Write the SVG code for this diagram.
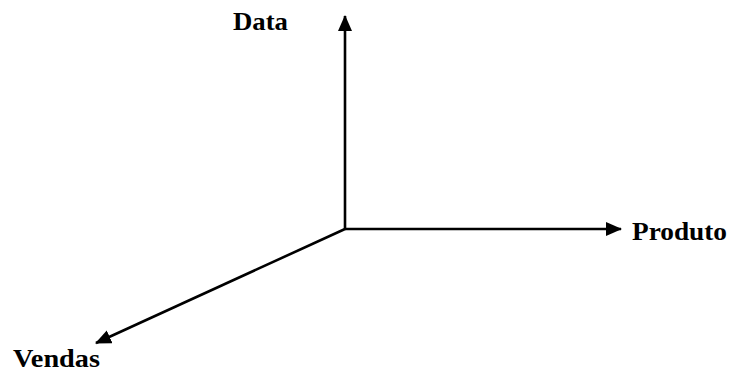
<svg xmlns="http://www.w3.org/2000/svg" width="730" height="374" viewBox="0 0 730 374">
<style>
.lbl{font-family:"Liberation Serif","Times New Roman",serif;font-weight:bold;font-size:26px;fill:#000}
.ax{stroke:#000;stroke-width:2.6;fill:none}
</style>
<defs>
<marker id="ah" viewBox="0 0 16 14" refX="15" refY="7" markerWidth="16" markerHeight="14" markerUnits="userSpaceOnUse" orient="auto">
<path d="M0,0 L16,7 L0,14 Z" fill="#000"/>
</marker>
</defs>
<rect width="730" height="374" fill="#fff"/>
<g id="connectors">
<line class="ax" x1="345" y1="229" x2="345" y2="16" marker-end="url(#ah)"/>
<line class="ax" x1="345" y1="229" x2="621" y2="229" marker-end="url(#ah)"/>
<line class="ax" x1="345" y1="229" x2="96" y2="343" marker-end="url(#ah)"/>
</g>
<g id="data"><text class="lbl" x="233" y="30" textLength="55" lengthAdjust="spacingAndGlyphs">Data</text></g>
<g id="produto"><text class="lbl" x="632" y="240" textLength="95" lengthAdjust="spacingAndGlyphs">Produto</text></g>
<g id="vendas"><text class="lbl" x="13" y="367" textLength="87" lengthAdjust="spacingAndGlyphs">Vendas</text></g>
</svg>
